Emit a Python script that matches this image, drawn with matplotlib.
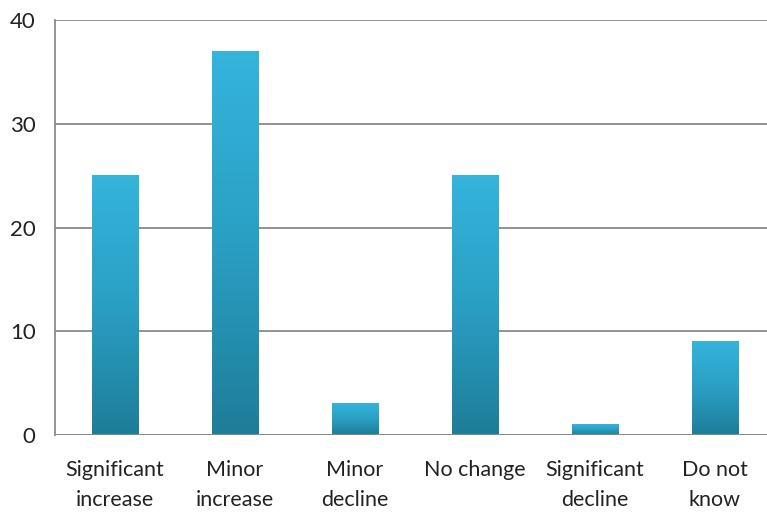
import numpy as np
import matplotlib
matplotlib.use("Agg")
import matplotlib.pyplot as plt
from matplotlib.colors import LinearSegmentedColormap

categories = ["Significant\nincrease", "Minor\nincrease", "Minor\ndecline",
              "No change", "Significant\ndecline", "Do not\nknow"]
values = [25, 37, 3, 25, 1, 9]
yticks = [0, 10, 20, 30, 40]

plt.rcParams['font.family'] = ['Lato', 'DejaVu Sans']

fig = plt.figure(figsize=(7.67, 5.18), dpi=100)
# plot area: left spine at x=55px, 0 at y=435px, 40 at y=20px
ax = fig.add_axes([55 / 767, (518 - 435) / 518, 720 / 767, 415 / 518])

cmap = LinearSegmentedColormap.from_list("bar", ["#1e7d98", "#2a9fc4", "#35b4dc"])
grad = np.linspace(0, 1, 256).reshape(-1, 1)
width = 0.39
x = np.arange(len(categories))

for xi, v in zip(x, values):
    ax.imshow(grad, cmap=cmap, origin="lower", aspect="auto",
              extent=[xi - width / 2, xi + width / 2, 0, v], zorder=3)

ax.set_xlim(-0.5, len(categories) - 0.5)
ax.set_ylim(0, 40)
ax.set_yticks(yticks)
ax.set_xticks(x)
ax.set_xticklabels(categories, fontsize=15.5, color="#222222", linespacing=1.6)
ax.tick_params(axis="both", length=0, colors="#222222")
ax.tick_params(axis="y", pad=14, labelsize=16)
ax.tick_params(axis="x", pad=18)

ax.grid(axis="y", color="#8a8a8a", linewidth=1.3, zorder=0)
for s in ["top", "right", "bottom"]:
    ax.spines[s].set_visible(False)
ax.spines["left"].set_color("#8a8a8a")
ax.spines["left"].set_linewidth(1.3)
ax.axhline(0, color="#8a8a8a", linewidth=1.3, zorder=4)

fig.savefig("out.png", dpi=100)
